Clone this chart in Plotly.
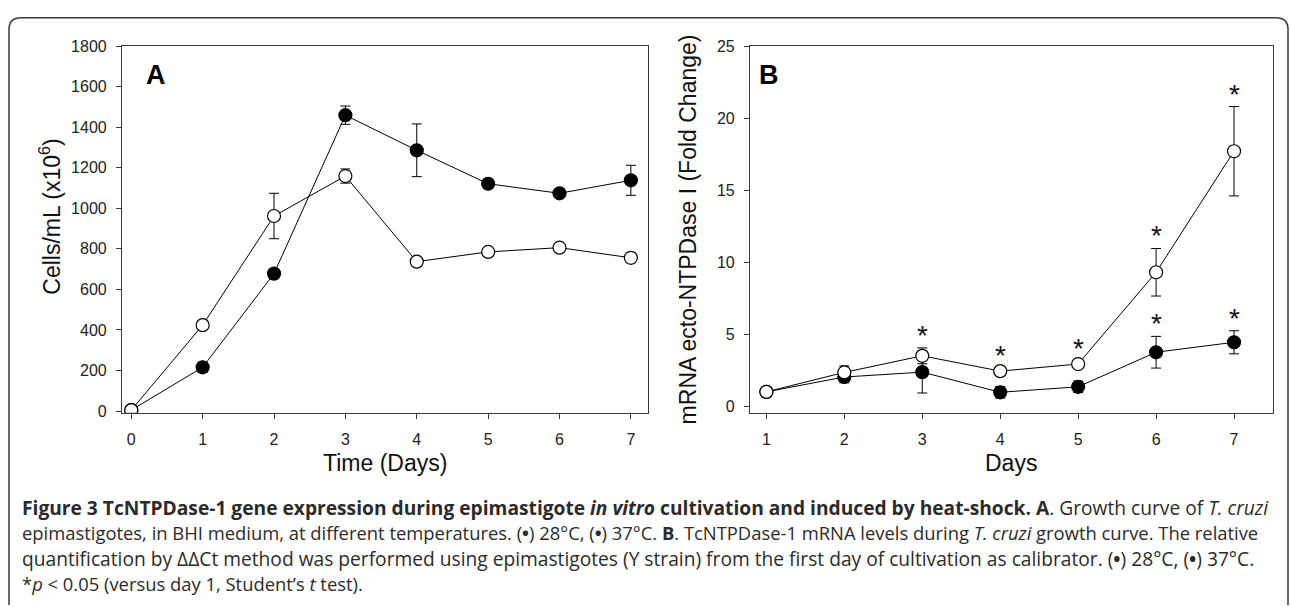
import plotly.graph_objects as go

W, H = 1290, 607

# ---------------- data ----------------
days_A = [0, 1, 2, 3, 4, 5, 6, 7]
A_open = [5, 424, 962, 1159, 737, 785, 806, 756]
A_open_err = [0, 0, 112, 35, 0, 0, 0, 24]
A_filled = [5, 216, 678, 1459, 1286, 1121, 1074, 1138]
A_filled_err = [0, 25, 0, 45, 130, 0, 0, 74]

days_B = [1, 2, 3, 4, 5, 6, 7]
B_open = [1.0, 2.35, 3.5, 2.44, 2.93, 9.3, 17.7]
B_open_err = [0, 0.45, 0.55, 0.2, 0.2, 1.65, 3.1]
B_filled = [1.0, 2.03, 2.37, 0.97, 1.35, 3.75, 4.44]
B_filled_err = [0, 0.4, 1.45, 0.4, 0.4, 1.1, 0.8]

# significance markers (day) for each series in panel B
B_open_sig_days = [3, 4, 5, 6, 7]
B_filled_sig_days = [6, 7]

ticks_A_x = [0, 1, 2, 3, 4, 5, 6, 7]
ticks_A_y = [0, 200, 400, 600, 800, 1000, 1200, 1400, 1600, 1800]
ticks_B_x = [1, 2, 3, 4, 5, 6, 7]
ticks_B_y = [0, 5, 10, 15, 20, 25]

# ---------------- helpers ----------------
def px(x):
    return x / W

def py(y):
    return 1 - y / H

TICKFONT = dict(family="Liberation Sans Narrow, Arial Narrow, Liberation Sans, Arial", size=16, color="#222")
TITLEFONT = dict(family="Liberation Sans, Arial", size=23, color="#111")
AXLINE = "#3a3a3a"

fig = go.Figure()

def add_series(x, y, err, xa, ya, filled, name):
    fig.add_trace(go.Scatter(
        x=x, y=y, mode="lines+markers", name=name,
        xaxis=xa, yaxis=ya,
        line=dict(color="black", width=1),
        marker=dict(size=13, symbol="circle",
                    color="black" if filled else "white",
                    line=dict(color="black", width=1.2)),
        error_y=dict(type="data", array=err, visible=True,
                     color="black", thickness=1, width=5),
        showlegend=False,
    ))

add_series(days_A, A_filled, A_filled_err, "x", "y", True, "37°C")
add_series(days_A, A_open, A_open_err, "x", "y", False, "28°C")
add_series(days_B, B_filled, B_filled_err, "x2", "y2", True, "37°C")
add_series(days_B, B_open, B_open_err, "x2", "y2", False, "28°C")

# asterisks above error bars
annotations = []
def star(day, vals, errs):
    i = days_B.index(day)
    annotations.append(dict(
        x=day, y=vals[i] + errs[i], xref="x2", yref="y2",
        text="*", showarrow=False, yanchor="bottom", xanchor="center",
        yshift=-5, font=dict(family="Liberation Sans, Arial", size=28, color="#111")))

for d in B_open_sig_days:
    star(d, B_open, B_open_err)
for d in B_filled_sig_days:
    star(d, B_filled, B_filled_err)

# axes
A_left, A_right = 122, 648
B_left, B_right = 750, 1273
P_top, P_bot = 39, 415

common_axis = dict(showline=True, linecolor=AXLINE, linewidth=1.2, mirror=True,
                   ticks="outside", ticklen=5, tickwidth=1, tickcolor=AXLINE,
                   showgrid=False, zeroline=False, tickfont=TICKFONT)

fig.update_layout(
    width=W, height=H,
    margin=dict(l=0, r=0, t=0, b=0),
    paper_bgcolor="white", plot_bgcolor="white",
    xaxis=dict(domain=[px(A_left), px(A_right)], range=[-0.13, 7.24],
               tickvals=ticks_A_x, anchor="y", ticklabelstandoff=7, **common_axis),
    yaxis=dict(domain=[py(P_bot), py(P_top)], range=[-8, 1800],
               tickvals=ticks_A_y, anchor="x", ticklabelstandoff=6, **common_axis),
    xaxis2=dict(domain=[px(B_left), px(B_right)], range=[0.79, 7.5],
                tickvals=ticks_B_x, anchor="y2", ticklabelstandoff=7, **common_axis),
    yaxis2=dict(domain=[py(P_bot), py(P_top)], range=[-0.45, 25],
                tickvals=ticks_B_y, anchor="x2", ticklabelstandoff=6, **common_axis),
)

# titles and panel letters (paper coords)
def ptext(x, y, text, font, angle=0, xanchor="center", yanchor="middle"):
    annotations.append(dict(x=px(x), y=py(y), xref="paper", yref="paper", text=text,
                            showarrow=False, textangle=angle, font=font,
                            xanchor=xanchor, yanchor=yanchor))

ptext(385, 467, "Time (Days)", TITLEFONT)
ptext(1011, 467, "Days", TITLEFONT)
ptext(50, 214, "Cells/mL (x10<sup>6</sup>)", TITLEFONT, angle=-90)
ptext(688, 227, "mRNA ecto-NTPDase I (Fold Change)", TITLEFONT, angle=-90)
LETTER = dict(family="Liberation Sans, Arial", size=27, color="black")
ptext(144, 69, "<b>A</b>", LETTER, xanchor="left")
ptext(757, 69, "<b>B</b>", LETTER, xanchor="left")

# caption
BUL = "(<b>•</b>)"
cap_lines = [
    "<b>Figure 3 TcNTPDase-1 gene expression during epimastigote <i>in vitro</i> cultivation and induced by heat-shock. A</b>. Growth curve of <i>T. cruzi</i>",
    f"epimastigotes, in BHI medium, at different temperatures. {BUL} 28°C, {BUL} 37°C. <b>B</b>. TcNTPDase-1 mRNA levels during <i>T. cruzi</i> growth curve. The relative",
    f"quantification by ΔΔCt method was performed using epimastigotes (Y strain) from the first day of cultivation as calibrator. {BUL} 28°C, {BUL} 37°C.",
    "*<i>p</i> &lt; 0.05 (versus day 1, Student’s <i>t</i> test).",
]
cap_sizes = [19.2, 18.4, 19.2, 18.4]
cap_y = [512, 538, 564, 590]
for t, yy, s in zip(cap_lines, cap_y, cap_sizes):
    ptext(20, yy, t, dict(family="Open Sans", size=s, color="#2b2b2b"), xanchor="left")

fig.update_layout(annotations=annotations)

# outer rounded frame (open at the bottom)
xl, xr, yt, r = 9, 1288, 10, 12
path = (f"M {px(xl)} {py(H + 5)} L {px(xl)} {py(yt + r)} "
        f"Q {px(xl)} {py(yt)} {px(xl + r)} {py(yt)} "
        f"L {px(xr - r)} {py(yt)} Q {px(xr)} {py(yt)} {px(xr)} {py(yt + r)} "
        f"L {px(xr)} {py(H + 5)}")
fig.add_shape(type="path", path=path, xref="paper", yref="paper",
              line=dict(color="#3a3a3a", width=1.5))

fig.write_html("out.html", config={"displayModeBar": False},
               post_script="document.body.style.margin='0';document.body.style.overflow='hidden';")
